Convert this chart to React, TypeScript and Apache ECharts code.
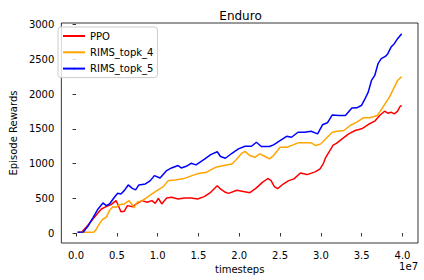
import React, { useEffect, useRef } from "react";
import * as echarts from "echarts";

const titleText = "Enduro";
const xName = "timesteps";
const yName = "Episode Rewards";
const xOffsetText = "1e7";
const xTicks = [0, 0.5, 1.0, 1.5, 2.0, 2.5, 3.0, 3.5, 4.0];
const yTicks = [0, 500, 1000, 1500, 2000, 2500, 3000];
const seriesNames = ["PPO", "RIMS_topk_4", "RIMS_topk_5"];

// x in units of 1e7 timesteps, y = episode reward
const ppo = [
  [0.02, 10], [0.07, 15], [0.13, 91], [0.19, 177], [0.25, 264], [0.31, 346], [0.37, 379], [0.43, 408],
  [0.49, 466], [0.51, 418], [0.55, 307], [0.59, 312], [0.63, 394], [0.69, 379], [0.75, 427], [0.81, 466],
  [0.87, 442], [0.93, 466], [0.97, 427], [1.01, 500], [1.05, 418], [1.11, 505], [1.17, 514], [1.25, 490],
  [1.33, 505], [1.41, 505], [1.49, 490], [1.57, 524], [1.65, 586], [1.73, 680], [1.77, 634], [1.83, 586],
  [1.87, 571], [1.97, 615], [2.05, 598], [2.13, 580], [2.21, 650], [2.28, 725], [2.35, 785], [2.39, 754],
  [2.43, 668], [2.47, 638], [2.52, 688], [2.60, 750], [2.67, 779], [2.75, 865], [2.83, 841], [2.93, 880],
  [2.99, 923], [3.03, 1000], [3.06, 1090], [3.11, 1187], [3.15, 1265], [3.19, 1290], [3.26, 1356],
  [3.34, 1428], [3.42, 1476], [3.50, 1500], [3.58, 1562], [3.66, 1610], [3.72, 1692], [3.78, 1754],
  [3.82, 1725], [3.86, 1740], [3.90, 1716], [3.94, 1754], [3.97, 1822], [3.99, 1836],
];

const rimsTopk4 = [
  [0.02, 10], [0.22, 12], [0.25, 58], [0.29, 138], [0.33, 202], [0.37, 225], [0.41, 322], [0.45, 379],
  [0.49, 370], [0.53, 408], [0.59, 418], [0.65, 466], [0.69, 404], [0.71, 361], [0.75, 442], [0.81, 466],
  [0.87, 514], [0.93, 562], [0.99, 610], [1.03, 640], [1.07, 668], [1.13, 754], [1.21, 764], [1.31, 780],
  [1.43, 830], [1.51, 860], [1.59, 870], [1.65, 909], [1.71, 946], [1.81, 971], [1.91, 995], [1.97, 1067],
  [2.03, 1148], [2.07, 1175], [2.13, 1115], [2.19, 1090], [2.25, 1139], [2.31, 1105], [2.37, 1067],
  [2.42, 1115], [2.50, 1235], [2.58, 1235], [2.66, 1269], [2.72, 1298], [2.80, 1298], [2.88, 1298],
  [2.94, 1259], [3.00, 1284], [3.06, 1356], [3.14, 1451], [3.20, 1466], [3.28, 1476], [3.36, 1548],
  [3.44, 1596], [3.52, 1659], [3.60, 1659], [3.69, 1692], [3.72, 1740], [3.76, 1812], [3.80, 1884],
  [3.84, 1956], [3.90, 2100], [3.94, 2197], [3.99, 2254],
];

const rimsTopk5 = [
  [0.02, 10], [0.09, 15], [0.15, 105], [0.21, 225], [0.27, 346], [0.33, 433], [0.37, 394], [0.41, 418],
  [0.47, 514], [0.51, 571], [0.55, 562], [0.59, 610], [0.64, 692], [0.69, 643], [0.73, 620], [0.77, 692],
  [0.85, 707], [0.91, 754], [0.96, 826], [1.03, 793], [1.11, 899], [1.17, 937], [1.25, 971], [1.29, 937],
  [1.35, 960], [1.41, 1004], [1.47, 981], [1.57, 1060], [1.65, 1129], [1.73, 1170], [1.77, 1101],
  [1.83, 1076], [1.91, 1148], [1.99, 1211], [2.07, 1250], [2.15, 1249], [2.21, 1307], [2.27, 1245],
  [2.37, 1245], [2.42, 1269], [2.50, 1331], [2.58, 1393], [2.64, 1379], [2.72, 1451], [2.80, 1451],
  [2.88, 1466], [2.96, 1428], [3.02, 1558], [3.08, 1587], [3.14, 1700], [3.22, 1692], [3.30, 1692],
  [3.38, 1800], [3.44, 1803], [3.50, 1840], [3.54, 1930], [3.58, 2028], [3.62, 2197], [3.66, 2269],
  [3.70, 2438], [3.74, 2510], [3.79, 2543], [3.82, 2582], [3.86, 2677], [3.90, 2726], [3.94, 2798],
  [3.99, 2870],
];

const colors = ["#ff0000", "#ffa500", "#0000ff"];
const FONT = "DejaVu Sans";

export default function App() {
  const ref = useRef<HTMLDivElement>(null);
  useEffect(() => {
    if (!ref.current) return;
    const chart = echarts.init(ref.current, null, { renderer: "svg" });
    const datasets = [ppo, rimsTopk4, rimsTopk5];
    chart.setOption({
      animation: false,
      textStyle: { fontFamily: FONT },
      title: {
        text: titleText,
        left: 235.5,
        top: 5,
        textAlign: "center",
        textStyle: { fontFamily: FONT, fontSize: 12, fontWeight: "normal", color: "#000" },
      },
      grid: {
        left: 53,
        top: 23,
        right: 6,
        bottom: 37,
        show: true,
        borderColor: "#000",
        borderWidth: 0.8,
        backgroundColor: "transparent",
      },
      legend: {
        data: seriesNames,
        orient: "vertical",
        left: 58,
        top: 27,
        padding: [3, 4, 3, 4],
        itemGap: 4.3,
        itemWidth: 22,
        itemHeight: 2,
        borderColor: "#cccccc",
        borderWidth: 1,
        borderRadius: 3,
        backgroundColor: "rgba(255,255,255,0.8)",
        textStyle: { fontFamily: FONT, fontSize: 10, color: "#000", lineHeight: 12 },
      },
      xAxis: {
        type: "value",
        min: -0.18,
        max: 4.19,
        name: xName,
        nameLocation: "middle",
        nameGap: 19,
        nameTextStyle: { fontFamily: FONT, fontSize: 10, color: "#000", verticalAlign: "top" },
        axisLine: { show: false },
        axisTick: {
          show: true,
          length: 3.5,
          customValues: xTicks,
          lineStyle: { color: "#000", width: 0.8 },
        },
        axisLabel: {
          customValues: xTicks,
          margin: 7,
          fontFamily: FONT,
          fontSize: 10,
          color: "#000",
          formatter: (v: number) => v.toFixed(1),
        },
        splitLine: { show: false },
      },
      yAxis: {
        type: "value",
        min: -144,
        max: 3024,
        name: yName,
        nameLocation: "middle",
        nameGap: 38,
        nameTextStyle: { fontFamily: FONT, fontSize: 10, color: "#000" },
        axisLine: { show: false },
        axisTick: {
          show: true,
          length: 3.5,
          customValues: yTicks,
          lineStyle: { color: "#000", width: 0.8 },
        },
        axisLabel: {
          customValues: yTicks,
          margin: 7,
          fontFamily: FONT,
          fontSize: 10,
          color: "#000",
          formatter: (v: number) => String(v),
        },
        splitLine: { show: false },
      },
      graphic: [
        {
          type: "text",
          right: 6,
          top: 261,
          style: { text: xOffsetText, font: `10px "${FONT}"`, fill: "#000" },
        },
      ],
      series: seriesNames.map((name, i) => ({
        name,
        type: "line",
        data: datasets[i],
        symbol: "none",
        color: colors[i],
        lineStyle: { color: colors[i], width: 1.5 },
        z: 2 + i,
      })),
    });
    return () => chart.dispose();
  }, []);
  return (
    <div
      ref={ref}
      style={{ position: "fixed", left: 0, top: 0, width: 424, height: 280, background: "#fff" }}
    />
  );
}
